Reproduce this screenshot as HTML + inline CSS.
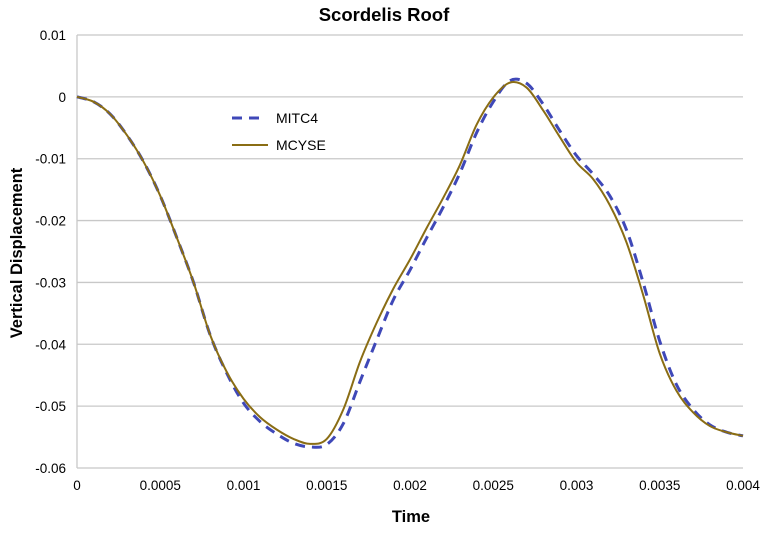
<!DOCTYPE html>
<html><head><meta charset="utf-8"><style>
body{margin:0;background:#fff;font-family:"Liberation Sans",Arial,sans-serif}
svg text{font-family:"Liberation Sans",Arial,sans-serif}
</style></head><body>
<svg id="chart" width="768" height="533">
<text x="384" y="21" text-anchor="middle" font-size="18.5" font-weight="bold">Scordelis Roof</text>
<text x="411" y="522" text-anchor="middle" font-size="16.5" font-weight="bold">Time</text>
<text transform="translate(22,253) rotate(-90)" text-anchor="middle" font-size="16.5" font-weight="bold">Vertical Displacement</text>
<g id="grid"></g><g id="series"></g>
<g>
<line x1="232" y1="118" x2="265" y2="118" stroke="#3f48b8" stroke-width="3" stroke-dasharray="10,7"/>
<text x="276" y="123" font-size="14">MITC4</text>
<line x1="232" y1="145" x2="268" y2="145" stroke="#8a6d14" stroke-width="2"/>
<text x="276" y="150" font-size="14">MCYSE</text>
</g>
</svg>
<script>
const xTicks=[0,0.0005,0.001,0.0015,0.002,0.0025,0.003,0.0035,0.004];
const xTickLabels=["0","0.0005","0.001","0.0015","0.002","0.0025","0.003","0.0035","0.004"];
const yTicks=[0.01,0,-0.01,-0.02,-0.03,-0.04,-0.05,-0.06];
const yTickLabels=["0.01","0","-0.01","-0.02","-0.03","-0.04","-0.05","-0.06"];
const timeMCYSE=[0,0.0001,0.0002,0.0003,0.0004,0.0005,0.0006,0.0007,0.0008,0.0009,0.001,0.0011,0.0012,0.0013,0.0014,0.0015,0.0016,0.0017,0.0018,0.0019,0.002,0.0021,0.0022,0.0023,0.0024,0.0025,0.0026,0.0027,0.0028,0.0029,0.003,0.0031,0.0032,0.0033,0.0034,0.0035,0.0036,0.0037,0.0038,0.0039,0.004];
const valMCYSE=[0,-0.0008,-0.0028,-0.0062,-0.0105,-0.016,-0.0228,-0.030,-0.0385,-0.0445,-0.0488,-0.0518,-0.0538,-0.0553,-0.0561,-0.0553,-0.0505,-0.0428,-0.0365,-0.031,-0.0263,-0.0212,-0.0163,-0.011,-0.0045,-0.0001,0.0023,0.0015,-0.0022,-0.0065,-0.0106,-0.0133,-0.0175,-0.0235,-0.032,-0.0415,-0.0475,-0.051,-0.0532,-0.0542,-0.0548];
const timeMITC4=[0,0.0001,0.0002,0.0003,0.0004,0.0005,0.0006,0.0007,0.0008,0.0009,0.001,0.0011,0.0012,0.0013,0.0014,0.0015,0.0016,0.0017,0.0018,0.0019,0.002,0.0021,0.0022,0.0023,0.0024,0.0025,0.0026,0.0027,0.0028,0.0029,0.003,0.0031,0.0032,0.0033,0.0034,0.0035,0.0036,0.0037,0.0038,0.0039,0.004];
const valMITC4=[0,-0.0008,-0.0028,-0.0062,-0.0105,-0.016,-0.0228,-0.030,-0.0385,-0.0447,-0.0495,-0.0525,-0.0545,-0.056,-0.0566,-0.0562,-0.0528,-0.046,-0.0393,-0.0328,-0.028,-0.0228,-0.0178,-0.0123,-0.0058,-0.0008,0.0026,0.0022,-0.0012,-0.0055,-0.0095,-0.0125,-0.016,-0.0215,-0.03,-0.0395,-0.0465,-0.0505,-0.053,-0.0542,-0.0548];
const X0=77,X1=743,Y0=35,Y1=468;
const sx=v=>X0+(v-0)/(0.004)*(X1-X0);
const sy=v=>Y0+(0.01-v)/(0.07)*(Y1-Y0);
const NS='http://www.w3.org/2000/svg';
const grid=document.getElementById('grid'),ser=document.getElementById('series');
function mk(tag,attrs,parent){const e=document.createElementNS(NS,tag);for(const k in attrs)e.setAttribute(k,attrs[k]);parent.appendChild(e);return e;}
yTicks.forEach((t,i)=>{
 const l=mk('line',{x1:X0,x2:X1,y1:sy(t),y2:sy(t),stroke:'#c8c8c8','stroke-width':1.3},grid);
 
 
 const tx=mk('text',{x:X0-11,y:sy(t)+5,'text-anchor':'end','font-size':13.5},grid);tx.textContent=yTickLabels[i];
 
 
});
const ax=mk('line',{x1:X0,x2:X0,y1:Y0,y2:Y1,stroke:'#c8c8c8','stroke-width':1.3},grid);


xTicks.forEach((t,i)=>{
 const tx=mk('text',{x:sx(t),y:Y1+22,'text-anchor':'middle','font-size':13.5},grid);tx.textContent=xTickLabels[i];
 
 
});
function path(xs,ys){
 const p=xs.map((x,i)=>[sx(x),sy(ys[i])]);let d='M'+p[0][0]+','+p[0][1];
 for(let i=0;i<p.length-1;i++){const a=p[Math.max(0,i-1)],b=p[i],c=p[i+1],e=p[Math.min(p.length-1,i+2)];
  d+=' C'+(b[0]+(c[0]-a[0])/6)+','+(b[1]+(c[1]-a[1])/6)+' '+(c[0]-(e[0]-b[0])/6)+','+(c[1]-(e[1]-b[1])/6)+' '+c[0]+','+c[1];}
 return d;}
const p1=mk('path',{d:path(timeMITC4,valMITC4),fill:'none',stroke:'#3f48b8','stroke-width':3,'stroke-dasharray':'10,7'},ser);


const p2=mk('path',{d:path(timeMCYSE,valMCYSE),fill:'none',stroke:'#8a6d14','stroke-width':2},ser);


</script>
</body></html>
